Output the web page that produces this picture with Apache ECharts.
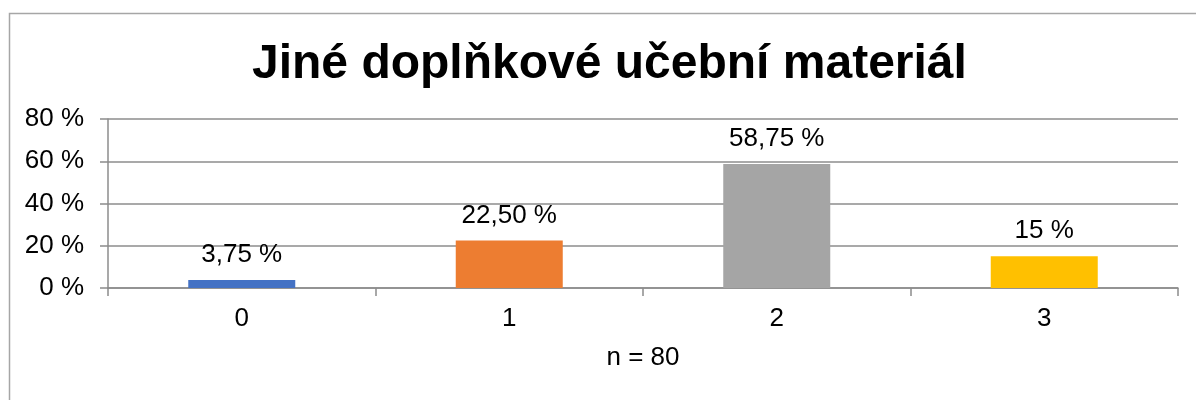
<!DOCTYPE html>
<html><head><meta charset="utf-8">
<script src="https://cdn.jsdelivr.net/npm/echarts@6/dist/echarts.min.js"></script>
<style>html,body{margin:0;padding:0;background:#fff}#c{width:1196px;height:400px}</style>
</head><body><div id="c"></div>
<script>
const title = 'Jiné doplňkové učební materiál';
const categories = ['0', '1', '2', '3'];
const values = [3.75, 22.5, 58.75, 15];
const valueLabels = ['3,75 %', '22,50 %', '58,75 %', '15 %'];
const colors = ['#4472C4', '#ED7D31', '#A5A5A5', '#FFC000'];
const yTicks = [0, 20, 40, 60, 80];
const axisName = 'n = 80';

const font = 'Liberation Sans, Arial, sans-serif';
const chart = echarts.init(document.getElementById('c'));
chart.setOption({
  animation: false,
  graphic: [{
    type: 'rect', left: 7, top: 11, silent: true,
    shape: { width: 1300, height: 500 },
    style: { fill: 'none', stroke: '#a6a6a6', lineWidth: 1.5 }
  }],
  title: {
    text: title, left: 247, top: 36,
    textStyle: { fontFamily: font, fontWeight: 'bold', fontSize: 48, color: '#000' }
  },
  grid: { left: 108, right: 18, top: 119, bottom: 112 },
  xAxis: {
    type: 'category', data: categories,
    axisLine: { lineStyle: { color: '#8c8c8c', width: 1.5 } },
    axisTick: { show: true, length: 8, lineStyle: { color: '#8c8c8c', width: 1.5 } },
    axisLabel: { fontFamily: font, fontSize: 26, color: '#000', margin: 18 },
    name: axisName, nameLocation: 'middle', nameGap: 57,
    nameTextStyle: { fontFamily: font, fontSize: 26, color: '#000' }
  },
  yAxis: {
    type: 'value', min: yTicks[0], max: yTicks[yTicks.length - 1], interval: 20,
    axisLine: { show: true, lineStyle: { color: '#8c8c8c', width: 1.5 } },
    axisTick: { show: true, length: 8, lineStyle: { color: '#8c8c8c', width: 1.5 } },
    splitLine: { lineStyle: { color: '#8c8c8c', width: 1.5 } },
    axisLabel: { fontFamily: font, fontSize: 26, color: '#000', margin: 24, formatter: v => v + ' %' }
  },
  series: [{
    type: 'bar', barWidth: '40%',
    data: values.map((v, i) => ({ value: v, itemStyle: { color: colors[i] } })),
    label: {
      show: true, position: 'top', distance: 12,
      fontFamily: font, fontSize: 26, color: '#000',
      formatter: p => valueLabels[p.dataIndex]
    }
  }]
});
</script></body></html>
